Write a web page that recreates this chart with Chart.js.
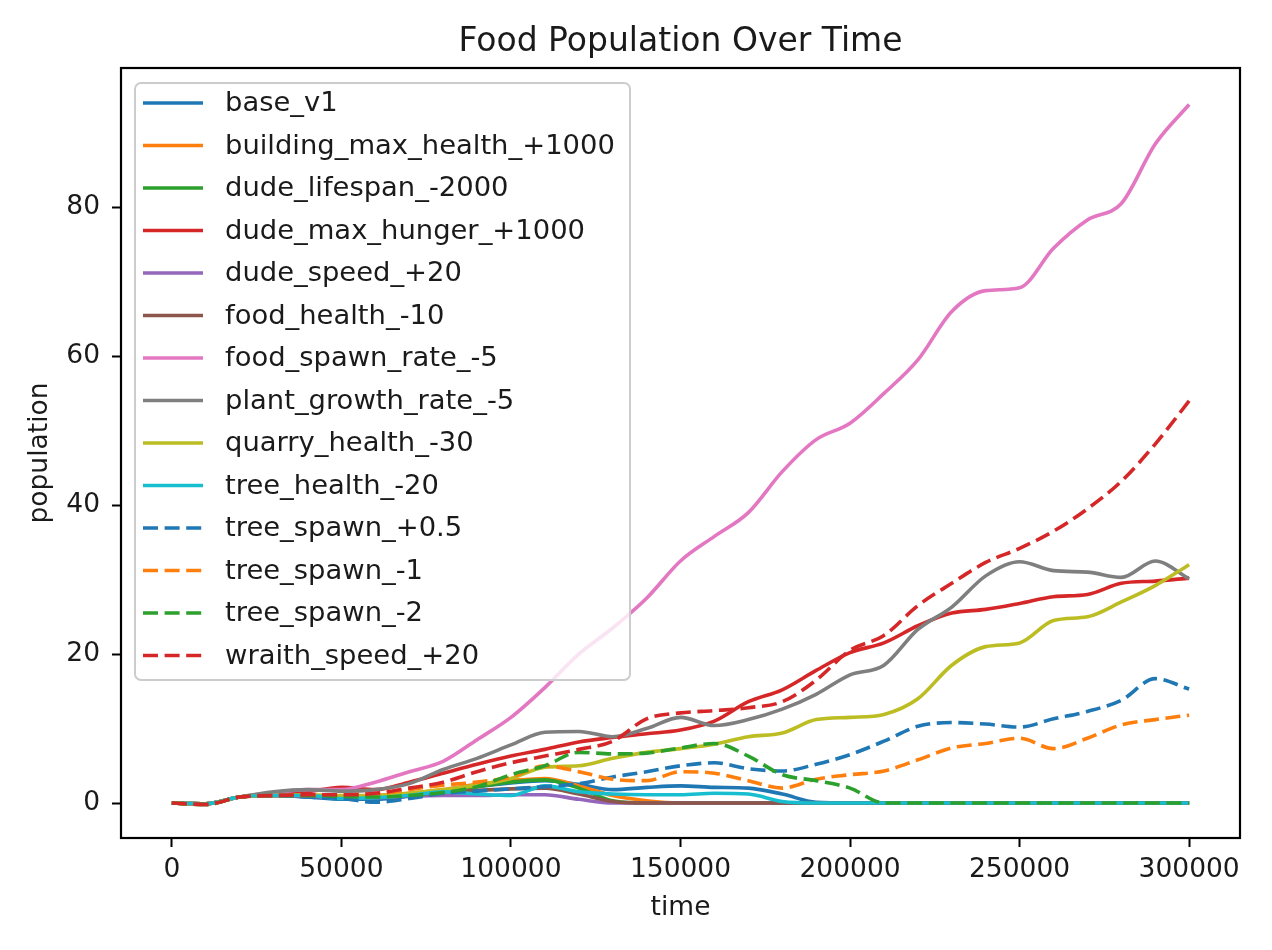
<!DOCTYPE html>
<html>
<head>
<meta charset="utf-8">
<title>Food Population Over Time</title>
<script src="https://cdn.jsdelivr.net/npm/chart.js@4.4.1/dist/chart.umd.min.js"></script>
<style>
  body { margin: 0; background: #fff; }
  canvas { display: block; }
</style>
</head>
<body>
<canvas id="foodChart" width="1272" height="950"></canvas>
<script>
// time samples (every 10000 ticks)
const times = [0, 10000, 20000, 30000, 40000, 50000, 60000, 70000, 80000, 90000, 100000,
  110000, 120000, 130000, 140000, 150000, 160000, 170000, 180000, 190000, 200000,
  210000, 220000, 230000, 240000, 250000, 260000, 270000, 280000, 290000, 300000];

const xTicks = [0, 50000, 100000, 150000, 200000, 250000, 300000];
const yTicks = [0, 20, 40, 60, 80];

const baseV1 =            [0, -0.1, 0.8, 1, 0.8, 0.5, 0.5, 0.9, 1.5, 2.2, 2.7, 3, 2.5, 1.8, 2.1, 2.3, 2.1, 2, 1.2, 0.1, 0, 0, 0, 0, 0, 0, 0, 0, 0, 0, 0];
const buildingMaxHealth = [0, -0.1, 0.8, 1, 1, 0.9, 1, 1.3, 1.8, 2.5, 3, 3.3, 2.3, 1, 0.3, 0, 0, 0, 0, 0, 0, 0, 0, 0, 0, 0, 0, 0, 0, 0, 0];
const dudeLifespan =      [0, -0.1, 0.8, 1, 1, 0.8, 0.9, 1.1, 1.5, 2.2, 2.8, 3.1, 2, 0.3, 0, 0, 0, 0, 0, 0, 0, 0, 0, 0, 0, 0, 0, 0, 0, 0, 0];
const dudeMaxHunger =     [0, -0.1, 0.8, 1.1, 1.5, 2.1, 1.8, 2.8, 4, 5.2, 6.3, 7.2, 8.2, 8.8, 9.3, 9.8, 11, 13.6, 15.2, 17.8, 20.2, 21.5, 23.8, 25.5, 26, 26.8, 27.7, 28, 29.5, 29.8, 30.2];
const dudeSpeed =         [0, -0.1, 0.8, 1, 0.9, 0.7, 0.7, 0.9, 1, 1, 1.1, 1.1, 0.5, 0, 0, 0, 0, 0, 0, 0, 0, 0, 0, 0, 0, 0, 0, 0, 0, 0, 0];
const foodHealth =        [0, -0.1, 0.8, 1, 1, 0.8, 0.8, 1, 1.4, 1.7, 1.9, 2, 1.2, 0.2, 0, 0, 0, 0, 0, 0, 0, 0, 0, 0, 0, 0, 0, 0, 0, 0, 0];
const foodSpawnRate =     [0, -0.1, 0.8, 1.4, 1.8, 1.8, 2.8, 4.2, 5.6, 8.5, 11.5, 15.5, 20, 23.5, 27.5, 32.5, 35.8, 39, 44.5, 48.8, 51, 55, 59.5, 66, 68.8, 69.2, 74.5, 78.3, 80.5, 88.5, 93.8];
const plantGrowthRate =   [0, -0.1, 0.8, 1.5, 1.8, 1.6, 1.8, 2.6, 4.5, 6, 7.8, 9.5, 9.6, 8.9, 10, 11.5, 10.4, 11.2, 12.6, 14.6, 17.2, 18.5, 23.3, 26.3, 30.5, 32.4, 31.2, 31, 30.3, 32.5, 30.1];
const quarryHealth =      [0, -0.1, 0.8, 1, 1.1, 1, 1, 1.3, 1.8, 2.4, 3.3, 4.8, 5, 6, 6.8, 7.3, 7.9, 8.9, 9.4, 11.2, 11.5, 11.9, 14, 18.5, 21, 21.5, 24.5, 25, 27, 29.2, 32];
const treeHealth =        [0, -0.1, 0.8, 1, 1, 0.6, 0.7, 1, 1.5, 1.2, 1, 2.3, 1.5, 1.2, 1.1, 1.1, 1.3, 1.2, 0.2, 0, 0, 0, 0, 0, 0, 0, 0, 0, 0, 0, 0];
const treeSpawnPlus05 =   [0, -0.2, 0.8, 1, 0.8, 0.6, 0.1, 0.6, 1.3, 1.6, 1.9, 2.2, 2.6, 3.5, 4.2, 5, 5.4, 4.6, 4.3, 5.2, 6.5, 8.3, 10.3, 10.8, 10.6, 10.2, 11.3, 12.3, 13.8, 16.7, 15.3];
const treeSpawnMinus1 =   [0, -0.2, 0.8, 1, 1, 1.1, 1.2, 1.8, 2.4, 2.8, 3.5, 5, 4.2, 3.2, 3, 4.2, 4, 3, 2, 3.2, 3.8, 4.3, 5.8, 7.4, 8, 8.7, 7.3, 8.7, 10.5, 11.2, 11.8];
const treeSpawnMinus2 =   [0, -0.2, 0.8, 1, 1, 0.9, 0.8, 1, 1.4, 2.2, 3.8, 5, 6.8, 6.6, 6.7, 7.4, 8, 6.3, 3.8, 3, 2, 0, 0, 0, 0, 0, 0, 0, 0, 0, 0];
const wraithSpeed =       [0, -0.2, 0.8, 1, 1.1, 1.1, 1.3, 2, 2.8, 4.2, 5.4, 6.3, 7.2, 8.3, 11.3, 12.1, 12.4, 12.8, 13.6, 16.5, 20.5, 22.5, 26.5, 29.5, 32.3, 34.2, 36.5, 39.5, 43.2, 48.2, 54];

const seriesNames = ['base_v1', 'building_max_health_+1000', 'dude_lifespan_-2000', 'dude_max_hunger_+1000',
  'dude_speed_+20', 'food_health_-10', 'food_spawn_rate_-5', 'plant_growth_rate_-5', 'quarry_health_-30',
  'tree_health_-20', 'tree_spawn_+0.5', 'tree_spawn_-1', 'tree_spawn_-2', 'wraith_speed_+20'];
const seriesValues = [baseV1, buildingMaxHealth, dudeLifespan, dudeMaxHunger, dudeSpeed, foodHealth,
  foodSpawnRate, plantGrowthRate, quarryHealth, treeHealth, treeSpawnPlus05, treeSpawnMinus1,
  treeSpawnMinus2, wraithSpeed];
const seriesColors = ['#1f77b4', '#ff7f0e', '#2ca02c', '#d62728', '#9467bd', '#8c564b', '#e377c2',
  '#7f7f7f', '#bcbd22', '#17becf', '#1f77b4', '#ff7f0e', '#2ca02c', '#d62728'];
const seriesDashed = [false, false, false, false, false, false, false, false, false, false, true, true, true, true];

const chartTitle = 'Food Population Over Time';

const FONT = "'DejaVu Sans', sans-serif";
const DASH = [15, 6.6];
const LINE_W = 3.6;

// title over the axes, frame around the plot + legend box inside the axes (like matplotlib)
const framePlugin = {
    id: 'frame',
    afterDatasetsDraw(chart) {
        const ctx = chart.ctx;
        const a = chart.chartArea;
        ctx.save();

        // title centred on the axes, not the canvas
        ctx.font = '33px ' + FONT;
        ctx.fillStyle = '#1a1a1a';
        ctx.textAlign = 'center';
        ctx.textBaseline = 'alphabetic';
        ctx.fillText(chartTitle, (a.left + a.right) / 2, 51);

        // legend
        const lx = 135, ly = 83, lw = 495, lh = 597;
        ctx.beginPath();
        ctx.roundRect(lx, ly, lw, lh, 6);
        ctx.fillStyle = 'rgba(255,255,255,0.8)';
        ctx.fill();
        ctx.strokeStyle = '#cccccc';
        ctx.lineWidth = 2;
        ctx.stroke();

        ctx.font = '27.4px ' + FONT;
        ctx.textBaseline = 'middle';
        ctx.textAlign = 'left';
        chart.data.datasets.forEach((ds, i) => {
            const y = 103 + i * 42.5;
            ctx.beginPath();
            ctx.setLineDash(seriesDashed[i] ? DASH : []);
            ctx.lineDashOffset = 0;
            ctx.strokeStyle = ds.borderColor;
            ctx.lineWidth = LINE_W;
            ctx.moveTo(143, y);
            ctx.lineTo(203, y);
            ctx.stroke();
            ctx.fillStyle = '#1a1a1a';
            ctx.fillText(ds.label, 225, y + 1);
        });

        // axes box
        ctx.setLineDash([]);
        ctx.strokeStyle = '#000';
        ctx.lineWidth = 2.2;
        ctx.strokeRect(a.left, a.top, a.right - a.left, a.bottom - a.top);
        ctx.restore();
    }
};

function createChart() {
    const ctx = document.getElementById('foodChart').getContext('2d');

    const datasets = seriesNames.map((name, i) => ({
        label: name,
        data: times.map((t, j) => ({ x: t, y: seriesValues[i][j] })),
        borderColor: seriesColors[i],
        backgroundColor: seriesColors[i],
        borderWidth: LINE_W,
        borderDash: seriesDashed[i] ? DASH : [],
        pointRadius: 0,
        cubicInterpolationMode: 'monotone',
        fill: false,
        order: seriesNames.length - i
    }));

    new Chart(ctx, {
        type: 'line',
        data: { datasets: datasets },
        options: {
            responsive: false,
            animation: false,
            devicePixelRatio: 1,
            layout: { padding: { left: 0, right: 32, top: 68, bottom: 0 } },
            plugins: {
                legend: { display: false },
                tooltip: { enabled: false },
                title: { display: false }
            },
            scales: {
                x: {
                    type: 'linear',
                    min: -15000,
                    max: 315000,
                    afterBuildTicks: (scale) => { scale.ticks = xTicks.map(v => ({ value: v })); },
                    afterFit: (scale) => { scale.height = 112; },
                    grid: { drawOnChartArea: false, drawTicks: true, tickLength: 9, tickWidth: 2, tickColor: '#000' },
                    border: { display: true, color: '#000', width: 2 },
                    ticks: {
                        color: '#1a1a1a',
                        font: { family: FONT, size: 26.5 },
                        padding: 7,
                        maxRotation: 0,
                        autoSkip: false,
                        callback: (v) => String(v)
                    },
                    title: {
                        display: true,
                        text: 'time',
                        color: '#1a1a1a',
                        font: { family: FONT, size: 26.5 },
                        padding: { top: 0, bottom: 26 }
                    }
                },
                y: {
                    type: 'linear',
                    min: -4.7,
                    max: 98.7,
                    afterBuildTicks: (scale) => { scale.ticks = yTicks.map(v => ({ value: v })); },
                    afterFit: (scale) => { scale.width = 121; },
                    grid: { drawOnChartArea: false, drawTicks: true, tickLength: 9, tickWidth: 2, tickColor: '#000' },
                    border: { display: true, color: '#000', width: 2 },
                    ticks: {
                        color: '#1a1a1a',
                        font: { family: FONT, size: 26.5 },
                        padding: 12,
                        autoSkip: false,
                        callback: (v) => String(v)
                    },
                    title: {
                        display: true,
                        text: 'population',
                        color: '#1a1a1a',
                        font: { family: FONT, size: 26.5 },
                        padding: { top: 24, bottom: 0 }
                    }
                }
            }
        },
        plugins: [framePlugin]
    });
}

document.addEventListener('DOMContentLoaded', createChart);
</script>
</body>
</html>
